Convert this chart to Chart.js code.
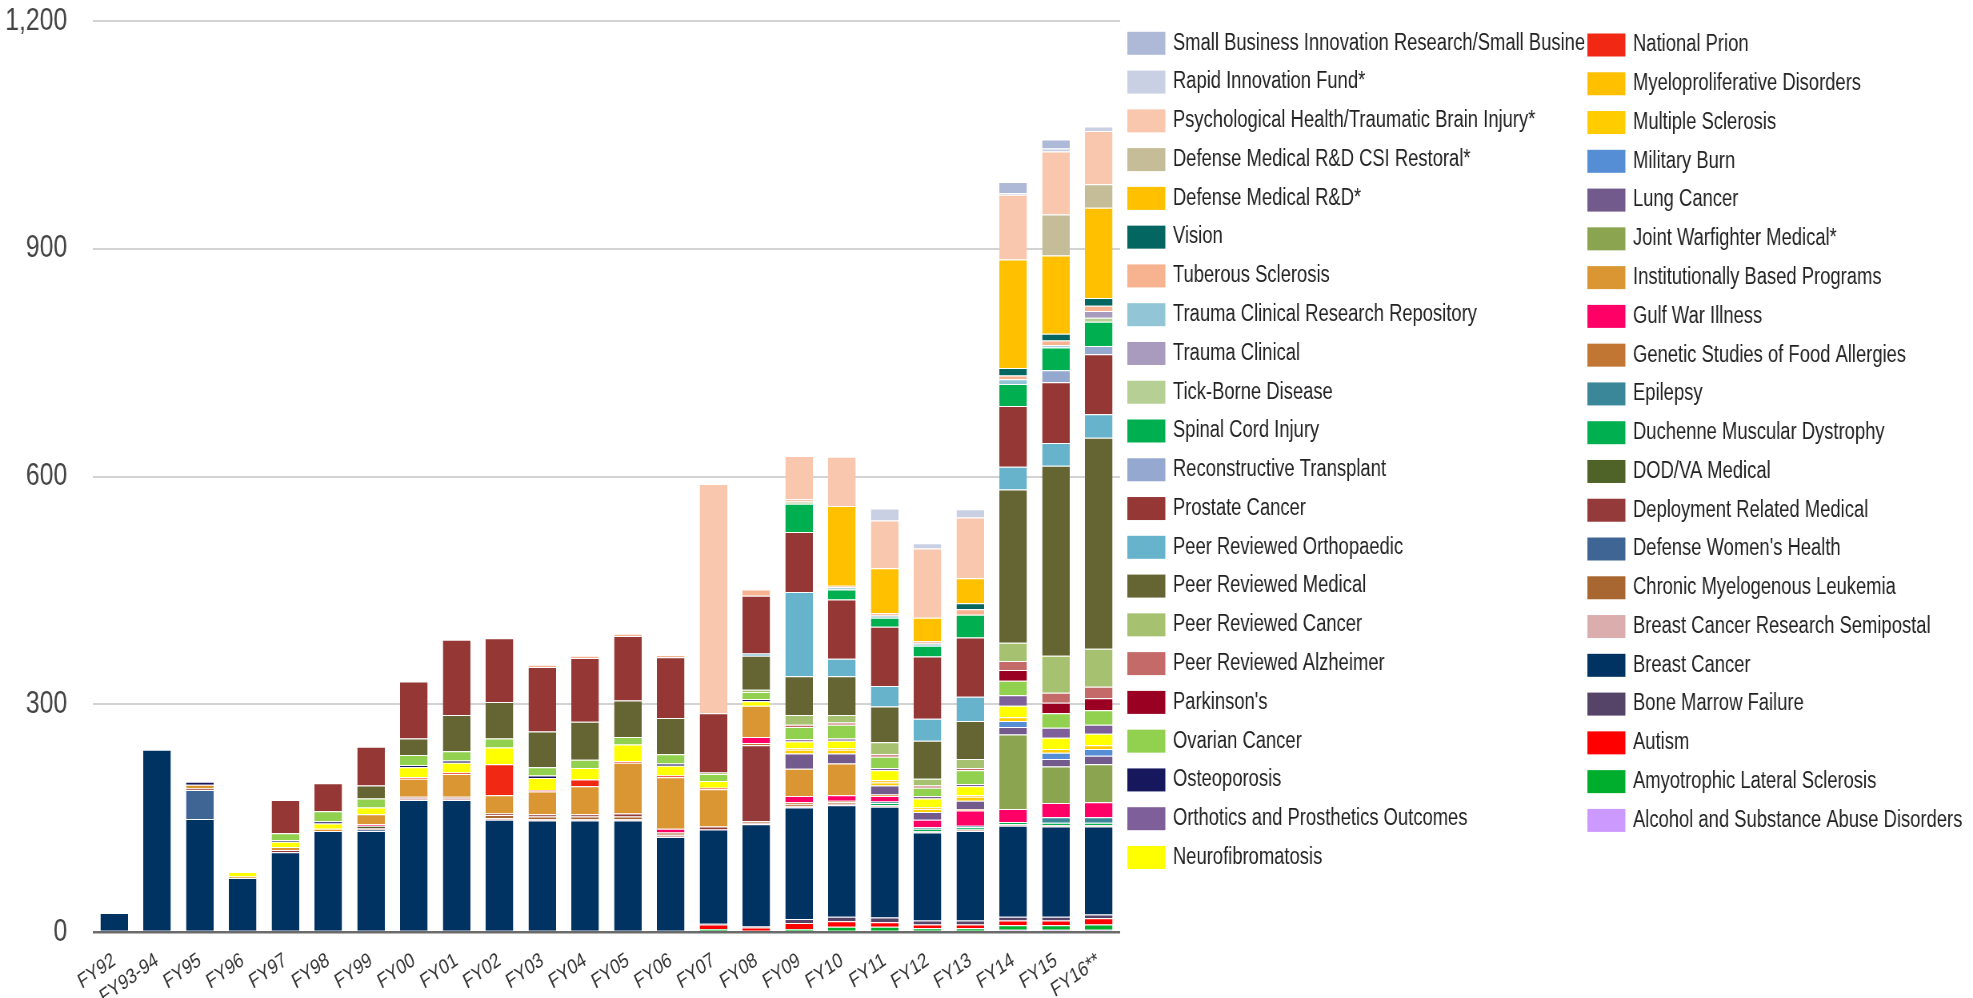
<!DOCTYPE html>
<html>
<head>
<meta charset="utf-8">
<title>CDMRP appropriations by program</title>
<script src="https://cdn.jsdelivr.net/npm/chart.js@4.4.1/dist/chart.umd.min.js"></script>
<style>
  html, body { margin: 0; padding: 0; background: #fff; }
</style>
</head>
<body>
<!-- drawn 2466px wide, shown squeezed to 1973px like the original picture -->
<canvas id="chart" width="2466" height="998" style="display:block;width:1973px;height:998px"></canvas>
<script>
// Fiscal years
const years = ['FY92', 'FY93-94', 'FY95', 'FY96', 'FY97', 'FY98', 'FY99', 'FY00', 'FY01', 'FY02', 'FY03', 'FY04',
    'FY05', 'FY06', 'FY07', 'FY08', 'FY09', 'FY10', 'FY11', 'FY12', 'FY13', 'FY14', 'FY15', 'FY16**'];

// Amounts per program ($M), stacked from the bottom up
const alcohol = [0,0,0,0,0,0,0,0,0,0,0,0,0,0,0,0,0,0,0,0,0,3,3,3];
const als = [0,0,0,0,0,0,0,0,0,0,0,0,0,0,4,0,4,7,7,5,5,6,6,7];
const autism = [0,0,0,0,0,0,0,0,0,0,0,0,0,0,6,6,8,7,6,5,5,6,6,8];
const boneMarrow = [0,0,0,0,0,0,0,0,0,0,0,0,0,0,1,2,5,6,6,5,5,5,5,5];
const breastCancer = [25,240,149,71,105,133,133,174,174,148,147,147,147,125,124,134,147,147,146,116,118,120,119,116];
const semipostal = [0,0,0,0,0,0,0,2,2,2,2,2,2,3,0,2,2,2,2,2,2,2,2,2];
const cml = [0,0,0,0,0,0,0,0,0,4,3,3,3,3,0,2,2,2,0,0,0,0,0,0];
const womensHealth = [0,0,38,0,0,0,2,0,0,0,0,0,0,0,0,0,0,0,0,0,0,0,0,0];
const deployment = [0,0,2,0,3,0,2,2,2,2,3,3,4,0,4,100,0,0,0,0,0,0,0,0];
const dodVa = [0,0,0,0,0,0,3,0,0,0,0,0,0,0,0,0,0,0,0,0,0,0,0,0];
const duchenne = [0,0,0,0,0,0,0,0,0,0,0,0,0,0,0,0,0,0,3,3,3,3,3,3];
const epilepsy = [0,0,0,0,0,0,0,0,0,0,0,0,0,0,0,0,0,0,2,2,2,0,7,7];
const foodAllergies = [0,0,0,0,0,0,0,0,0,0,0,0,0,0,0,3,3,2,0,0,0,0,0,0];
const gulfWar = [0,0,0,0,0,0,2,0,0,0,0,0,0,5,0,8,8,7,7,10,20,17,19,20];
const institutional = [0,0,5,2,4,3,13,24,30,24,30,37,67,68,49,41,36,42,2,0,2,0,0,0];
const jointWarfighter = [0,0,0,0,0,0,0,0,0,0,0,0,0,0,0,0,0,0,0,0,0,98,48,50];
const lungCancer = [0,0,0,0,0,0,0,0,0,0,0,0,0,0,0,0,20,13,12,10,11,10,10,11];
const militaryBurn = [0,0,0,0,0,0,0,0,0,0,0,0,0,0,0,0,0,0,0,0,0,8,8,9];
const multipleSclerosis = [0,0,0,0,0,0,0,0,0,0,0,0,0,0,0,0,5,5,4,4,5,5,5,5];
const myeloproliferative = [0,0,0,0,0,0,0,0,0,0,0,0,0,0,0,0,2,2,3,2,2,0,0,0];
const prion = [0,0,0,0,0,0,0,2,2,41,2,9,2,2,2,0,0,0,0,0,0,0,0,0];
const neurofibromatosis = [0,0,0,6,7,7,9,13,13,22,16,15,22,13,9,6,9,10,13,12,12,15,15,15];
const orthotics = [0,0,0,0,0,0,0,0,0,0,0,0,0,0,0,0,3,3,3,3,3,14,13,12];
const osteoporosis = [0,0,4,0,2,3,0,3,3,0,3,0,0,3,0,3,0,0,0,0,0,0,0,0];
const ovarianCancer = [0,0,0,0,9,13,12,13,12,12,11,11,10,12,9,9,16,18,15,11,18,19,19,19];
const parkinsons = [0,0,0,0,0,0,0,0,0,0,0,0,0,0,0,0,0,0,0,0,0,14,14,16];
const alzheimer = [0,0,0,0,0,0,0,0,0,0,0,0,0,0,0,0,3,3,3,3,3,12,13,15];
const prCancer = [0,0,0,0,0,0,0,0,0,0,0,0,0,0,2,3,13,10,16,9,12,24,49,50];
const prMedical = [0,0,0,0,0,0,17,22,48,48,47,50,48,48,0,45,51,51,47,50,50,202,250,278];
const prOrthopaedic = [0,0,0,0,0,0,0,0,0,0,0,0,0,0,0,3,111,23,27,29,32,30,30,31];
const prostateCancer = [0,0,0,0,44,37,51,75,99,84,85,84,85,80,78,76,79,78,78,82,78,80,80,79];
const reconTransplant = [0,0,0,0,0,0,0,0,0,0,0,0,0,0,0,0,0,0,0,0,0,0,16,11];
const spinalCord = [0,0,0,0,0,0,0,0,0,0,0,0,0,0,0,0,37,13,12,14,30,29,30,32];
const tickBorne = [0,0,0,0,0,0,0,0,0,0,0,0,0,0,0,0,3,0,0,0,0,0,0,5];
const traumaClinical = [0,0,0,0,0,0,0,0,0,0,0,0,0,0,0,0,0,0,0,0,0,0,0,9];
const traumaRepository = [0,0,0,0,0,0,0,0,0,0,0,0,0,0,0,0,0,3,3,3,0,6,3,0];
const tuberous = [0,0,0,0,0,0,0,0,0,0,3,3,3,3,0,8,3,2,3,3,7,5,6,7];
const vision = [0,0,0,0,0,0,0,0,0,0,0,0,0,0,0,0,0,0,0,0,8,10,9,10];
const defenseMedical = [0,0,0,0,0,0,0,0,0,0,0,0,0,0,0,0,0,105,59,31,33,143,103,119];
const csiRestoral = [0,0,0,0,0,0,0,0,0,0,0,0,0,0,0,0,0,0,0,0,0,0,54,31];
const psychHealth = [0,0,0,0,0,0,0,0,0,0,0,0,0,0,302,0,57,65,63,91,80,85,83,70];
const rapidInnovation = [0,0,0,0,0,0,0,0,0,0,0,0,0,0,0,0,0,0,16,7,11,2,4,6];
const sbir = [0,0,0,0,0,0,0,0,0,0,0,0,0,0,0,0,0,0,0,0,0,15,12,0];

// label, colour, values (bottom of the stack first)
const programs = [
    ['Alcohol and Substance Abuse Disorders', '#cc99ff', alcohol],
    ['Amyotrophic Lateral Sclerosis', '#00ae2e', als],
    ['Autism', '#ff0000', autism],
    ['Bone Marrow Failure', '#554468', boneMarrow],
    ['Breast Cancer', '#003262', breastCancer],
    ['Breast Cancer Research Semipostal', '#dcadad', semipostal],
    ['Chronic Myelogenous Leukemia', '#a86630', cml],
    ["Defense Women's Health", '#3f6595', womensHealth],
    ['Deployment Related Medical', '#943a3a', deployment],
    ['DOD/VA Medical', '#4f6228', dodVa],
    ['Duchenne Muscular Dystrophy', '#00b050', duchenne],
    ['Epilepsy', '#3a8799', epilepsy],
    ['Genetic Studies of Food Allergies', '#c27634', foodAllergies],
    ['Gulf War Illness', '#ff0066', gulfWar],
    ['Institutionally Based Programs', '#d99633', institutional],
    ['Joint Warfighter Medical*', '#8aa44f', jointWarfighter],
    ['Lung Cancer', '#735a8c', lungCancer],
    ['Military Burn', '#558ed5', militaryBurn],
    ['Multiple Sclerosis', '#ffcc00', multipleSclerosis],
    ['Myeloproliferative Disorders', '#ffc000', myeloproliferative],
    ['National Prion', '#f02814', prion],
    ['Neurofibromatosis', '#ffff00', neurofibromatosis],
    ['Orthotics and Prosthetics Outcomes', '#7e5f9a', orthotics],
    ['Osteoporosis', '#17175e', osteoporosis],
    ['Ovarian Cancer', '#92d050', ovarianCancer],
    ["Parkinson's", '#990022', parkinsons],
    ['Peer Reviewed Alzheimer', '#c46a68', alzheimer],
    ['Peer Reviewed Cancer', '#a6c170', prCancer],
    ['Peer Reviewed Medical', '#656533', prMedical],
    ['Peer Reviewed Orthopaedic', '#67b3cb', prOrthopaedic],
    ['Prostate Cancer', '#953735', prostateCancer],
    ['Reconstructive Transplant', '#95a8cf', reconTransplant],
    ['Spinal Cord Injury', '#00b050', spinalCord],
    ['Tick-Borne Disease', '#b6cf94', tickBorne],
    ['Trauma Clinical', '#a99bbd', traumaClinical],
    ['Trauma Clinical Research Repository', '#92c5d5', traumaRepository],
    ['Tuberous Sclerosis', '#f7b28f', tuberous],
    ['Vision', '#036660', vision],
    ['Defense Medical R&D*', '#ffc000', defenseMedical],
    ['Defense Medical R&D CSI Restoral*', '#c4bd97', csiRestoral],
    ['Psychological Health/Traumatic Brain Injury*', '#f8c7ad', psychHealth],
    ['Rapid Innovation Fund*', '#c9d0e3', rapidInnovation],
    ['Small Business Innovation Research/Small Busine', '#adb9d6', sbir]
];

const datasets = programs.map(function(p) {
    return {
        label: p[0],
        data: p[2],
        backgroundColor: p[1],
        borderColor: 'rgba(255, 255, 255, 0.7)',
        borderWidth: { top: 1, right: 0, bottom: 0, left: 0 }
    };
});

// Legend in two columns, top of the stack first
const sideLegend = {
    id: 'sideLegend',
    afterDraw(chart) {
        const ctx = chart.ctx;
        const items = chart.data.datasets.slice().reverse();
        ctx.save();
        ctx.font = '23px "Liberation Sans", Arial, sans-serif';
        ctx.textBaseline = 'middle';
        items.forEach(function(ds, i) {
            const col = i < 22 ? 0 : 1;
            const row = col === 0 ? i : i - 22;
            const boxX = col === 0 ? 1409 : 1984;
            const y = (col === 0 ? 43.3 : 45) + row * 38.77;
            ctx.fillStyle = ds.backgroundColor;
            ctx.fillRect(boxX, y - 11.5, 47.5, 23);
            ctx.save();
            if (col === 0) {
                ctx.beginPath();
                ctx.rect(boxX, 0, 1980 - boxX, chart.height);
                ctx.clip();
            }
            ctx.fillStyle = '#222';
            ctx.fillText(ds.label, boxX + 57, y);
            ctx.restore();
        });
        ctx.restore();
    }
};

Chart.defaults.font.family = '"Liberation Sans", Arial, sans-serif';

new Chart(document.getElementById('chart').getContext('2d'), {
    type: 'bar',
    data: { labels: years, datasets: datasets },
    options: {
        responsive: false,
        animation: false,
        locale: 'en-US',
        layout: { padding: { top: 21, right: 1066, bottom: 0, left: 0 } },
        datasets: { bar: { barPercentage: 0.645, categoryPercentage: 1 } },
        plugins: {
            legend: { display: false },
            tooltip: { enabled: false }
        },
        scales: {
            x: {
                stacked: true,
                grid: { display: false },
                border: { display: false },
                ticks: {
                    autoSkip: false,
                    minRotation: 30,
                    maxRotation: 30,
                    padding: 8,
                    color: '#333',
                    font: { size: 21 }
                },
                afterFit: function(scale) { scale.height = 66; }
            },
            y: {
                stacked: true,
                min: 0,
                max: 1200,
                border: { display: false },
                grid: {
                    drawTicks: false,
                    color: function(c) { return c.tick && c.tick.value === 0 ? '#6b6b6b' : '#d3d3d3'; },
                    lineWidth: function(c) { return c.tick && c.tick.value === 0 ? 2.5 : 2; }
                },
                ticks: {
                    stepSize: 300,
                    padding: 32,
                    color: '#444',
                    font: { size: 31 }
                },
                afterFit: function(scale) {
                    scale.width = 116;
                    // keep the plot top at the layout padding
                    scale.paddingTop = 0;
                    scale.paddingBottom = 0;
                }
            }
        }
    },
    plugins: [sideLegend]
});
</script>
</body>
</html>
